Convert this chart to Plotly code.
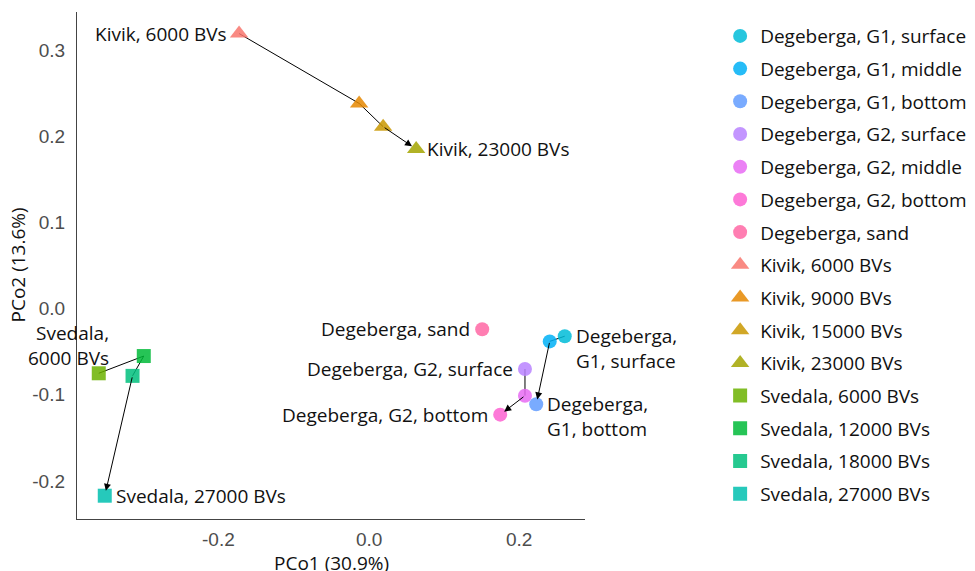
import plotly.graph_objects as go

names = ["Degeberga, G1, surface", "Degeberga, G1, middle", "Degeberga, G1, bottom",
         "Degeberga, G2, surface", "Degeberga, G2, middle", "Degeberga, G2, bottom",
         "Degeberga, sand",
         "Kivik, 6000 BVs", "Kivik, 9000 BVs", "Kivik, 15000 BVs", "Kivik, 23000 BVs",
         "Svedala, 6000 BVs", "Svedala, 12000 BVs", "Svedala, 18000 BVs", "Svedala, 27000 BVs"]
pco1 = [0.261, 0.241, 0.223, 0.208, 0.208, 0.175, 0.151,
        -0.173, -0.013, 0.019, 0.063,
        -0.360, -0.300, -0.315, -0.352]
pco2 = [-0.032, -0.038, -0.111, -0.070, -0.101, -0.123, -0.024,
        0.319, 0.238, 0.211, 0.185,
        -0.075, -0.055, -0.078, -0.217]
colors = ["#00BCD8", "#00B0F6", "#619CFF", "#B983FF", "#E76BF3", "#FD61D1", "#FF67A4",
          "#F8766D", "#E58700", "#C99800", "#A3A500",
          "#6BB100", "#00BA38", "#00BF7D", "#00C0AF"]
symbols = ["circle"] * 7 + ["triangle-up"] * 4 + ["square"] * 4
x_ticks = [-0.2, 0.0, 0.2]
x_ticktext = ["-0.2", "0.0", "0.2"]
y_ticks = [-0.2, -0.1, 0.0, 0.1, 0.2, 0.3]
y_ticktext = ["-0.2", "-0.1", "0.0", "0.1", "0.2", "0.3"]
x_title = "PCo1 (30.9%)"
y_title = "PCo2 (13.6%)"

# trajectories (indices into the arrays), arrowhead on last segment
paths = [[0, 1, 2], [3, 4, 5], [7, 8, 9, 10], [11, 12, 13, 14]]

# point labels: index, text, side
labels = [(7, "Kivik, 6000 BVs", "left"), (10, "Kivik, 23000 BVs", "right"),
          (11, "Svedala,<br>6000 BVs", "upleft"), (14, "Svedala, 27000 BVs", "right"),
          (6, "Degeberga, sand", "left"), (0, "Degeberga,<br>G1, surface", "right2"),
          (3, "Degeberga, G2, surface", "left"), (2, "Degeberga,<br>G1, bottom", "right2"),
          (5, "Degeberga, G2, bottom", "left")]

FONT = "Open Sans, Noto Sans, sans-serif"

fig = go.Figure()
for p in paths:
    fig.add_trace(go.Scatter(x=[pco1[i] for i in p[:-1]], y=[pco2[i] for i in p[:-1]],
                             mode="lines", line=dict(color="black", width=1),
                             showlegend=False, hoverinfo="skip"))

for i, n in enumerate(names):
    fig.add_trace(go.Scatter(x=[pco1[i]], y=[pco2[i]], mode="markers", name=n,
                             legendgroup=n,
                             marker=dict(color=colors[i], symbol=symbols[i],
                                         size=16 if symbols[i] == "triangle-up" else 14,
                                         opacity=0.85, line=dict(width=0))))

ann = []
for p in paths:
    a, b = p[-2], p[-1]
    ann.append(dict(x=pco1[b], y=pco2[b], ax=pco1[a], ay=pco2[a], xref="x", yref="y",
                    axref="x", ayref="y", showarrow=True, arrowhead=2, arrowsize=1.4,
                    arrowwidth=1, arrowcolor="black", standoff=5, text=""))

lab_font = dict(family=FONT, size=19, color="#111111")
for i, t, side in labels:
    if side == "left":
        ann.append(dict(x=pco1[i], y=pco2[i], text=t, showarrow=False, xanchor="right",
                        yanchor="middle", xshift=-10, font=lab_font))
    elif side == "right":
        ann.append(dict(x=pco1[i], y=pco2[i], text=t, showarrow=False, xanchor="left",
                        yanchor="middle", xshift=9, font=lab_font))
    elif side == "right2":
        ann.append(dict(x=pco1[i], y=pco2[i], text=t, showarrow=False, xanchor="left",
                        yanchor="top", xshift=9, yshift=15, align="left", font=lab_font))
    else:
        ann.append(dict(x=pco1[i], y=pco2[i], text=t, showarrow=False, xanchor="right",
                        yanchor="bottom", xshift=12, yshift=0, align="right", font=lab_font))

tick_font = dict(family="Liberation Sans, Arial, sans-serif", size=19, color="#4D4D4D")
title_font = dict(family=FONT, size=19, color="#111111")

# x-axis tick labels placed on the x scale, just below the axis line
for v, t in zip(x_ticks, x_ticktext):
    ann.append(dict(x=v, y=0, xref="x", yref="paper", text=t, showarrow=False,
                    xanchor="center", yanchor="middle", yshift=-20, font=tick_font))
# axis titles
ann.append(dict(x=0.5, y=0, xref="paper", yref="paper", text=x_title, showarrow=False,
                xanchor="center", yanchor="middle", yshift=-44, font=title_font))
ann.append(dict(x=0, y=0.5, xref="paper", yref="paper", text=y_title, showarrow=False,
                textangle=-90, xanchor="center", yanchor="middle", xshift=-60,
                font=title_font))

fig.update_layout(
    width=967, height=563,
    margin=dict(l=69, r=390, t=4, b=52, autoexpand=False),
    plot_bgcolor="white", paper_bgcolor="white",
    annotations=ann,
    legend=dict(x=1.266, y=0.99, xanchor="left", yanchor="top",
                font=dict(family=FONT, size=19, color="#111111"),
                tracegroupgap=5, itemsizing="trace"),
    xaxis=dict(range=[-0.389, 0.288], tickvals=x_ticks, ticktext=x_ticktext,
               showticklabels=False, showgrid=False, zeroline=False,
               showline=True, linecolor="#444444", linewidth=1.3, ticks="",
               automargin=False),
    yaxis=dict(range=[-0.244, 0.344], tickvals=y_ticks, ticktext=y_ticktext,
               showgrid=False,
               zeroline=False, showline=True, linecolor="#444444", linewidth=1.3,
               ticks="outside", ticklen=7, tickcolor="rgba(0,0,0,0)",
               tickfont=tick_font, automargin=False),
)

fig.write_html("out.html")
